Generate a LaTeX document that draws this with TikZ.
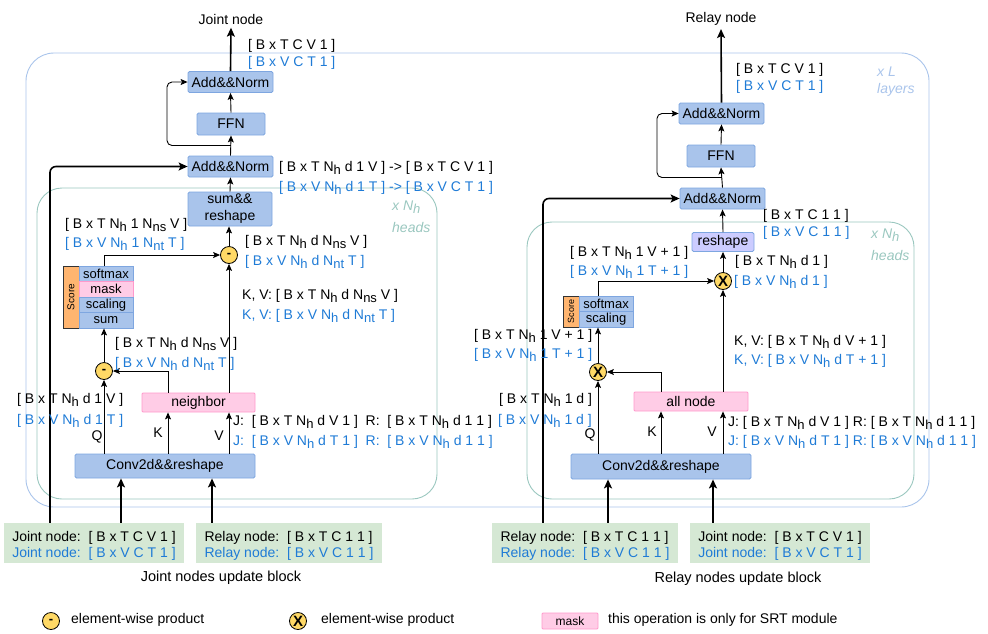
\documentclass[tikz,border=0pt]{standalone}
\usepackage{fontspec}
\setmainfont{Liberation Sans}
\usetikzlibrary{arrows.meta,calc}
\definecolor{bfill}{HTML}{A9C4EB}
\definecolor{bline}{HTML}{7EA6E0}
\definecolor{pfill}{HTML}{FFCCE6}
\definecolor{pline}{HTML}{FF99CC}
\definecolor{gfill}{HTML}{D5E8D4}
\definecolor{ofill}{HTML}{FFB570}
\definecolor{yfill}{HTML}{FFD966}
\definecolor{lfill}{HTML}{CCCCFF}
\definecolor{tblue}{HTML}{1F7BD6}
\definecolor{outerc}{HTML}{A9C4EB}
\definecolor{headc}{HTML}{9AC7BF}
\newcommand{\fs}{\fontsize{14}{16}\selectfont}
\newcommand{\Nsb}[1]{N\raisebox{-3.5pt}{\fontsize{13}{13}\selectfont #1}}
\newcommand{\NH}{\Nsb{h}}
\newcommand{\NNS}{\Nsb{ns}}
\newcommand{\NNT}{\Nsb{nt}}
\begin{document}
\begin{tikzpicture}[x=1pt,y=-1pt,
  every node/.style={font=\fs},
  box/.style={draw=bline, fill=bfill, rounded corners=1.5pt, inner sep=0pt, line width=0.8pt},
  pbox/.style={draw=pline, fill=pfill, rounded corners=1pt, inner sep=0pt, line width=0.8pt},
  lbox/.style={draw=bline, fill=lfill, rounded corners=1.5pt, inner sep=0pt, line width=0.8pt},
  gbox/.style={fill=gfill, inner sep=0pt},
  gtxt/.style={inner sep=0pt, align=left},
  obox/.style={draw=black!80, fill=ofill, inner sep=0pt, line width=0.8pt},
  sbox/.style={draw=bline, fill=bfill, inner sep=0pt, line width=0.8pt, minimum width=54pt, minimum height=15.5pt, font=\fontsize{13}{13}\selectfont},
  prod/.style={circle, draw=black, fill=yfill, inner sep=0pt, minimum size=17pt, line width=0.8pt},
  lab/.style={anchor=west, inner sep=0pt},
  labb/.style={lab, text=tblue},
  arr/.style={-{Stealth[length=7pt,width=6pt,inset=1.5pt]}, line width=0.9pt},
  tarr/.style={-{Stealth[length=9pt,width=8pt,inset=2pt]}, line width=1.6pt},
]
\useasboundingbox (0,0) rectangle (988,633);
% containers
\draw[outerc, line width=0.9pt, rounded corners=28pt] (26,53) rectangle (929,507);
\draw[headc, line width=0.9pt, rounded corners=25pt] (37,188) rectangle (437,499);
\draw[headc, line width=0.9pt, rounded corners=25pt] (527,222) rectangle (914,499);
\node[lab, text=outerc, font=\fs\itshape] (xl1) at (877,72) {x L};
\node[lab, text=outerc, font=\fs\itshape] (xl2) at (877,90) {layers};
\node[lab, text=headc, font=\fs\itshape] (hdL1) at (392,207) {x \NH};
\node[lab, text=headc, font=\fs\itshape] (hdL2) at (392,227) {heads};
\node[lab, text=headc, font=\fs\itshape] (hdR1) at (871,235) {x \NH};
\node[lab, text=headc, font=\fs\itshape] (hdR2) at (871,255) {heads};

% ================= LEFT BLOCK =================
\node (joutL) at (231,19) {Joint node};
\node[box, minimum width=85pt, minimum height=21pt] (addT) at (230.5,82) {Add\&\&Norm};
\node[box, minimum width=68pt, minimum height=22pt] (ffnL) at (231,124) {FFN};
\node[box, minimum width=85pt, minimum height=21pt] (addB) at (230.5,166.5) {Add\&\&Norm};
\node[box, minimum width=84pt, minimum height=34pt, align=center, font=\fontsize{14}{17}\selectfont] (sumL) at (230,209) {sum\&\&\\reshape};
\node[prod, font=\fontsize{13}{13}\selectfont\bfseries] (pu) at (229,255) {-};
\node[obox, minimum width=16pt, minimum height=62pt] (scL) at (71,297) {};
\node[rotate=90, inner sep=0pt, font=\fontsize{10}{10}\selectfont] (scLt) at (71,297) {Score};
\node[sbox] (softL) at (106,273.75) {softmax};
\node[sbox, draw=pline, fill=pfill] (maskL) at (106,289.25) {mask};
\node[sbox] (scalL) at (106,304.75) {scaling};
\node[sbox] (sumsL) at (106,320.25) {sum};
\node[prod, font=\fontsize{13}{13}\selectfont\bfseries] (pl) at (104,371) {-};
\node[pbox, minimum width=113pt, minimum height=19pt] (nb) at (198.5,402.5) {neighbor};
\node[box, minimum width=180pt, minimum height=24pt] (conv) at (165,466) {Conv2d\&\&reshape};
\node[gbox, minimum width=180pt, minimum height=40pt] (jinL) at (94,543) {};
\node[gtxt] (jinLt) at (94,546) {Joint node:\ \ [ B x T C V 1 ]\\\textcolor{tblue}{Joint node:\ \ [ B x V C T 1 ]}};
\node[gbox, minimum width=186pt, minimum height=40pt] (rinL) at (289,543) {};
\node[gtxt] (rinLt) at (289,546) {Relay node:\ \ [ B x T C 1 1 ]\\\textcolor{tblue}{Relay node:\ \ [ B x V C 1 1 ]}};
\node[font=\fontsize{14.5}{16}\selectfont] (capL) at (221,578) {Joint nodes update block};

\coordinate (kL) at (168,0);
\coordinate (resL) at (50,0);
\coordinate (skL) at (167,0);
\coordinate (inL1) at (121,0);
\coordinate (inL2) at (212,0);

\draw[tarr] (addT.north) -- (joutL.south);
\draw[arr] (ffnL.north) -- (addT.south);
\draw[arr] (addB.north) -- (ffnL.south);
\draw[arr, rounded corners=5pt] ($(addB.north)!0.5!(ffnL.south)$) -| (skL |- addT.west) -- (addT.west);
\draw[tarr, rounded corners=6pt] (resL |- jinL.north) |- (addB.west);
\draw[arr] (sumL.north) -- (addB.south);
\draw[arr] (pu.north) -- (pu |- sumL.south);
\draw[arr] (softL.north -| pl) -- (pl |- pu) -- (pu.west);
\draw[arr] (pl.north) -- (pl |- sumsL.south);
\draw[arr] (kL |- nb.north) -- (kL |- pl) -- (pl.east);
\draw[arr] (pu |- nb.north) -- (pu.south);
\draw[arr] (pl |- conv.north) -- (pl.south);
\draw[arr] (kL |- conv.north) -- (kL |- nb.south);
\draw[arr] (pu |- conv.north) -- (pu |- nb.south);
\draw[tarr] (inL1 |- jinL.north) -- (inL1 |- conv.south);
\draw[tarr] (inL2 |- rinL.north) -- (inL2 |- conv.south);

\node[lab] (lL1) at (248,46) {[ B x T C V 1 ]};
\node[labb] (lL1b) at (248,63) {[ B x V C T 1 ]};
\node[lab] (lL2) at (279,168) {[ B x T \NH\ d 1 V ] -> [ B x T C V 1 ]};
\node[labb] (lL2b) at (279,188) {[ B x V \NH\ d 1 T ] -> [ B x V C T 1 ]};
\node[lab] (lL3) at (65,225) {[ B x T \NH\ 1 \NNS\ V ]};
\node[labb] (lL3b) at (65,244) {[ B x V \NH\ 1 \NNT\ T ]};
\node[lab] (lL4) at (245,242) {[ B x T \NH\ d \NNS\ V ]};
\node[labb] (lL4b) at (245,262) {[ B x V \NH\ d \NNT\ T ]};
\node[lab] (lL5) at (242,296) {K, V: [ B x T \NH\ d \NNS\ V ]};
\node[labb] (lL5b) at (242,316) {K, V: [ B x V \NH\ d \NNT\ T ]};
\node[lab] (lL6) at (115,344) {[ B x T \NH\ d \NNS\ V ]};
\node[labb] (lL6b) at (115,364) {[ B x V \NH\ d \NNT\ T ]};
\node[lab] (lL7) at (17,400) {[ B x T \NH\ d 1 V ]};
\node[labb] (lL7b) at (17,421) {[ B x V \NH\ d 1 T ]};
\node (qL) at (97,437) {Q};
\node (kLt) at (158,433) {K};
\node (vL) at (219,436) {V};
\node[lab] (lL8) at (233,422) {J:\ \ [ B x T \NH\ d V 1 ]\ \ R:\ \ [ B x T \NH\ d 1 1 ]};
\node[labb] (lL8b) at (233,442) {J:\ \ [ B x V \NH\ d T 1 ]\ \ R:\ \ [ B x V \NH\ d 1 1 ]};

% ================= RIGHT BLOCK =================
\node (joutR) at (721,19) {Relay node};
\node[box, minimum width=85pt, minimum height=21pt] (addT2) at (721.5,113.5) {Add\&\&Norm};
\node[box, minimum width=68pt, minimum height=22pt] (ffnR) at (721,156) {FFN};
\node[box, minimum width=85pt, minimum height=21pt] (addB2) at (722.5,198.5) {Add\&\&Norm};
\node[lbox, minimum width=62pt, minimum height=19pt] (rsh) at (723,242) {reshape};
\node[prod, font=\fontsize{15}{15}\selectfont\bfseries] (px) at (723,281) {X};
\node[obox, minimum width=16pt, minimum height=31pt] (scR) at (571,311.5) {};
\node[rotate=90, inner sep=0pt, font=\fontsize{9}{9}\selectfont] (scRt) at (571,311.5) {Score};
\node[sbox] (softR) at (606,303.75) {softmax};
\node[sbox] (scalR) at (606,319.25) {scaling};
\node[prod, font=\fontsize{15}{15}\selectfont\bfseries] (px2) at (598,372) {X};
\node[pbox, minimum width=114pt, minimum height=19pt] (alln) at (691,401.5) {all node};
\node[box, minimum width=180pt, minimum height=25pt] (conv2) at (661,466.5) {Conv2d\&\&reshape};
\node[gbox, minimum width=186pt, minimum height=40pt] (rinR) at (585,543) {};
\node[gtxt] (rinRt) at (585,546) {Relay node:\ \ [ B x T C 1 1 ]\\\textcolor{tblue}{Relay node:\ \ [ B x V C 1 1 ]}};
\node[gbox, minimum width=180pt, minimum height=40pt] (jinR) at (780,543) {};
\node[gtxt] (jinRt) at (780,546) {Joint node:\ \ [ B x T C V 1 ]\\\textcolor{tblue}{Joint node:\ \ [ B x V C T 1 ]}};
\node[font=\fontsize{14.5}{16}\selectfont] (capR) at (738,579) {Relay nodes update block};

\coordinate (kR) at (661,0);
\coordinate (resR) at (543,0);
\coordinate (skR) at (657,0);
\coordinate (inR1) at (608,0);
\coordinate (inR2) at (713,0);

\draw[tarr] (addT2.north) -- (joutR.south);
\draw[arr] (ffnR.north) -- (addT2.south);
\draw[arr] (addB2.north) -- (ffnR.south);
\draw[arr, rounded corners=5pt] ($(addB2.north)!0.5!(ffnR.south)$) -| (skR |- addT2.west) -- (addT2.west);
\draw[tarr, rounded corners=6pt] (resR |- rinR.north) |- (addB2.west);
\draw[arr] (rsh.north) -- (addB2.south);
\draw[arr] (px.north) -- (rsh.south);
\draw[arr] (softR.north -| px2) -- (px2 |- px) -- (px.west);
\draw[arr] (px2.north) -- (px2 |- scalR.south);
\draw[arr] (kR |- alln.north) -- (kR |- px2) -- (px2.east);
\draw[arr] (px |- alln.north) -- (px.south);
\draw[arr] (px2 |- conv2.north) -- (px2.south);
\draw[arr] (kR |- conv2.north) -- (kR |- alln.south);
\draw[arr] (px |- conv2.north) -- (px |- alln.south);
\draw[tarr] (inR1 |- rinR.north) -- (inR1 |- conv2.south);
\draw[tarr] (inR2 |- jinR.north) -- (inR2 |- conv2.south);

\node[lab] (lR1) at (736,70) {[ B x T C V 1 ]};
\node[labb] (lR1b) at (736,87) {[ B x V C T 1 ]};
\node[lab] (lR2) at (763,216) {[ B x T C 1 1 ]};
\node[labb] (lR2b) at (763,233) {[ B x V C 1 1 ]};
\node[lab] (lR3) at (570,253) {[ B x T \NH\ 1 V + 1 ]};
\node[labb] (lR3b) at (570,272) {[ B x V \NH\ 1 T + 1 ]};
\node[lab] (lR4) at (735,262) {[ B x T \NH\ d 1 ]};
\node[labb] (lR4b) at (734,282) {[ B x V \NH\ d 1 ]};
\node[lab] (lR5) at (474,336) {[ B x T \NH\ 1 V + 1 ]};
\node[labb] (lR5b) at (474,355) {[ B x V \NH\ 1 T + 1 ]};
\node[lab] (lR6) at (734,342) {K, V: [ B x T \NH\ d V + 1 ]};
\node[labb] (lR6b) at (734,361) {K, V: [ B x V \NH\ d T + 1 ]};
\node[lab] (lR7) at (499,400) {[ B x T \NH\ 1 d ]};
\node[labb] (lR7b) at (498,421) {[ B x V \NH\ 1 d ]};
\node (qR) at (590,435) {Q};
\node (kRt) at (652,432) {K};
\node (vR) at (712,432) {V};
\node[lab] (lR8) at (728,423) {J: [ B x T \NH\ d V 1 ] R: [ B x T \NH\ d 1 1 ]};
\node[labb] (lR8b) at (728,442) {J: [ B x V \NH\ d T 1 ] R: [ B x V \NH\ d 1 1 ]};

% ================= LEGEND =================
\node[prod, font=\fontsize{13}{13}\selectfont\bfseries] (lgd1) at (51,621) {-};
\node[lab] (lgt1) at (71,620) {element-wise product};
\node[prod, font=\fontsize{15}{15}\selectfont\bfseries] (lgd2) at (298,621) {X};
\node[lab] (lgt2) at (321,620) {element-wise product};
\node[pbox, minimum width=56pt, minimum height=16pt, font=\fontsize{12}{12}\selectfont] (lgd3) at (570,621) {mask};
\node[lab] (lgt3) at (608,620) {this operation is only for SRT module};
\end{tikzpicture}
\end{document}
